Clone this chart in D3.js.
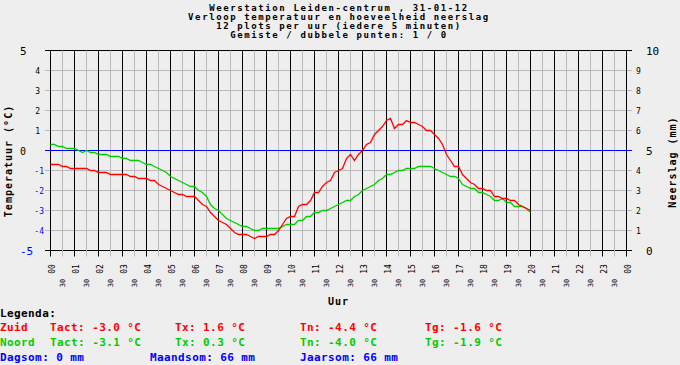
<!DOCTYPE html>
<html>
<head>
<meta charset="utf-8">
<script src="https://cdn.jsdelivr.net/npm/d3@7"></script>
<style>
  html, body { margin: 0; padding: 0; background: #eeeeee; }
  svg { display: block; }
  text { font-family: "DejaVu Sans Mono", monospace; }
</style>
</head>
<body>
<svg id="chart" width="680" height="365"></svg>
<script>
// ---------------- DATA ----------------
const titleLines = [
  "Weerstation Leiden-centrum , 31-01-12",
  "Verloop temperatuur en hoeveelheid neerslag",
  "12 plots per uur (iedere 5 minuten)",
  "Gemiste / dubbele punten: 1 / 0"
];
// time in hours (every 10 minutes, 00:00 - 20:00)
const timeSteps = d3.range(0, 121).map(k => k / 6);
const zuidTemp = [
  -0.7,-0.7,-0.7,-0.8,-0.8,-0.9,-0.9,-0.9,-0.9,-0.9,-1.0,-1.0,
  -1.1,-1.1,-1.1,-1.2,-1.2,-1.2,-1.2,-1.2,-1.3,-1.3,-1.4,-1.4,
  -1.4,-1.5,-1.5,-1.7,-1.8,-1.9,-2.0,-2.1,-2.2,-2.2,-2.3,-2.3,
  -2.3,-2.5,-2.7,-2.8,-3.1,-3.3,-3.5,-3.6,-3.7,-3.9,-4.1,-4.2,
  -4.2,-4.2,-4.3,-4.4,-4.3,-4.3,-4.3,-4.2,-4.2,-4.0,-3.7,-3.4,
  -3.3,-3.3,-2.8,-2.7,-2.7,-2.5,-2.1,-2.1,-1.8,-1.6,-1.5,-1.1,
  -1.0,-0.9,-0.4,-0.2,-0.5,-0.2, 0.0, 0.3, 0.4, 0.8, 1.0, 1.2,
   1.5, 1.6, 1.1, 1.3, 1.3, 1.5, 1.4, 1.4, 1.3, 1.2, 1.0, 1.0,
   0.8, 0.6, 0.3,-0.2,-0.5,-0.8,-0.8,-1.2,-1.4,-1.6,-1.7,-1.9,
  -1.9,-2.0,-2.0,-2.3,-2.3,-2.4,-2.4,-2.5,-2.5,-2.7,-2.8,-2.9,
  -3.0
];
const noordTemp = [
   0.3, 0.3, 0.2, 0.2, 0.1, 0.1, 0.1, 0.0,-0.1, 0.0,-0.1,-0.1,
  -0.2,-0.2,-0.2,-0.3,-0.3,-0.3,-0.4,-0.4,-0.5,-0.5,-0.5,-0.6,
  -0.7,-0.7,-0.8,-0.9,-1.0,-1.1,-1.3,-1.4,-1.5,-1.6,-1.7,-1.8,
  -1.8,-2.0,-2.1,-2.3,-2.7,-2.9,-3.0,-3.2,-3.4,-3.5,-3.6,-3.7,
  -3.8,-3.8,-3.9,-4.0,-4.0,-3.9,-3.9,-3.9,-3.9,-3.9,-3.8,-3.7,
  -3.7,-3.7,-3.5,-3.5,-3.3,-3.3,-3.1,-3.1,-3.0,-3.0,-2.9,-2.8,
  -2.7,-2.6,-2.5,-2.5,-2.3,-2.2,-2.0,-1.9,-1.8,-1.7,-1.5,-1.4,
  -1.2,-1.2,-1.1,-1.0,-1.0,-0.9,-0.9,-0.9,-0.8,-0.8,-0.8,-0.8,
  -0.9,-1.0,-1.1,-1.2,-1.3,-1.3,-1.4,-1.7,-1.8,-1.9,-1.9,-2.1,
  -2.1,-2.2,-2.3,-2.5,-2.5,-2.4,-2.6,-2.6,-2.8,-2.8,-2.8,-2.9,
  -3.1
];
const tempTicks = [-5,-4,-3,-2,-1,0,1,2,3,4,5];
const rainTicks = [0,1,2,3,4,5,6,7,8,9,10];
const hourTicks = d3.range(0, 25);
const halfHourTicks = d3.range(0.5, 24, 1);
const hourLabels = ["00","01","02","03","04","05","06","07","08","09","10","11",
                    "12","13","14","15","16","17","18","19","20","21","22","23","00"];
const legendTitle = "Legenda:";
const legendZuid = ["Zuid", "Tact: -3.0 °C", "Tx: 1.6 °C", "Tn: -4.4 °C", "Tg: -1.6 °C"];
const legendNoord = ["Noord", "Tact: -3.1 °C", "Tx: 0.3 °C", "Tn: -4.0 °C", "Tg: -1.9 °C"];
const legendRain = ["Dagsom: 0 mm", "Maandsom: 66 mm", "Jaarsom: 66 mm"];

// ---------------- DRAW ----------------
const RED = "#ff0000", GREEN = "#00cc00", BLUE = "#0000ff", GRID = "#bbbbbb";
const svg = d3.select("#chart");

const x = d3.scaleLinear().domain([0, 24]).range([50.5, 626.5]);
const y = d3.scaleLinear().domain([-5, 5]).range([250.5, 50.5]);
const yR = d3.scaleLinear().domain([0, 10]).range([250.5, 50.5]);

// title
svg.append("g").selectAll("text").data(titleLines).join("text")
  .attr("x", 339).attr("y", (d, i) => 10.5 + i * 9.2)
  .attr("text-anchor", "middle")
  .attr("font-size", "9px").attr("font-weight", "bold")
  .attr("letter-spacing", "1.6px")
  .attr("fill", "#000").text(d => d);

// horizontal gridlines (extend as ticks both sides)
svg.append("g").selectAll("line").data(tempTicks.filter(t => t !== 0)).join("line")
  .attr("x1", 45).attr("x2", 632)
  .attr("y1", d => y(d)).attr("y2", d => y(d))
  .attr("stroke", d => (Math.abs(d) === 5 ? "#000" : GRID))
  .attr("stroke-width", 1);

// half-hour vertical gridlines
svg.append("g").selectAll("line").data(halfHourTicks).join("line")
  .attr("x1", d => x(d)).attr("x2", d => x(d))
  .attr("y1", y(5)).attr("y2", y(-5) + 6)
  .attr("stroke", GRID).attr("stroke-width", 1);

// hour vertical lines
svg.append("g").selectAll("line").data(hourTicks).join("line")
  .attr("x1", d => x(d)).attr("x2", d => x(d))
  .attr("y1", y(5)).attr("y2", y(-5) + 6)
  .attr("stroke", "#000").attr("stroke-width", 1);

// zero line
svg.append("line")
  .attr("x1", 45).attr("x2", 632)
  .attr("y1", y(0)).attr("y2", y(0))
  .attr("stroke", BLUE).attr("stroke-width", 1);

// left axis labels
const leftLab = svg.append("g");
tempTicks.forEach(t => {
  const big = Math.abs(t) === 5 || t === 0;
  leftLab.append("text")
    .attr("x", big ? 20 : (t < 0 ? 44 : 40))
    .attr("y", y(t) + (big ? 4 : 3))
    .attr("text-anchor", big ? "start" : "end")
    .attr("font-size", big ? (t === 0 ? "10px" : "11px") : "8px")
    .attr("fill", t < 0 ? BLUE : "#000")
    .text(t);
});
// right axis labels
const rightLab = svg.append("g");
rainTicks.forEach(t => {
  const big = t % 5 === 0;
  rightLab.append("text")
    .attr("x", big ? 646 : 636)
    .attr("y", yR(t) + (big ? 4 : 3))
    .attr("font-size", big ? "11px" : "8px")
    .attr("fill", "#000")
    .text(t);
});

// axis titles
svg.append("text")
  .attr("transform", "translate(12,161) rotate(-90)")
  .attr("text-anchor", "middle")
  .attr("font-size", "10px").attr("font-weight", "bold").attr("letter-spacing", "1px")
  .text("Temperatuur (°C)");
svg.append("text")
  .attr("transform", "translate(676,162) rotate(-90)")
  .attr("text-anchor", "middle")
  .attr("font-size", "10px").attr("font-weight", "bold").attr("letter-spacing", "1px")
  .text("Neerslag (mm)");

// x labels
svg.append("g").selectAll("text").data(hourTicks).join("text")
  .attr("transform", d => `translate(${x(d) + 4},269) rotate(-90)`)
  .attr("text-anchor", "middle")
  .attr("font-size", "8px").attr("fill", "#000")
  .text((d, i) => hourLabels[i]);
svg.append("g").selectAll("text").data(halfHourTicks).join("text")
  .attr("transform", d => `translate(${x(d) + 2.5},283) rotate(-90)`)
  .attr("text-anchor", "middle")
  .attr("font-size", "7px").attr("fill", "#000")
  .text("30");

svg.append("text")
  .attr("x", 338.5).attr("y", 305)
  .attr("text-anchor", "middle")
  .attr("font-size", "10px").attr("font-weight", "bold").attr("letter-spacing", "1px")
  .text("Uur");

// series
const line = d3.line().x(d => x(d[0])).y(d => y(d[1]));
svg.append("path")
  .datum(timeSteps.map((t, i) => [t, noordTemp[i]]))
  .attr("d", line).attr("fill", "none")
  .attr("stroke", GREEN).attr("stroke-width", 1.3);
svg.append("path")
  .datum(timeSteps.map((t, i) => [t, zuidTemp[i]]))
  .attr("d", line).attr("fill", "none")
  .attr("stroke", RED).attr("stroke-width", 1.3);

// legend
const lg = svg.append("g")
  .attr("font-size", "11px").attr("font-weight", "bold").attr("letter-spacing", "0.4px");
lg.append("text").attr("x", 0).attr("y", 317).attr("fill", "#000").text(legendTitle);
const cols = [0, 50, 175, 300, 425];
lg.selectAll(".lz").data(legendZuid).join("text").attr("class", "lz")
  .attr("x", (d, i) => cols[i]).attr("y", 331).attr("fill", RED).text(d => d);
lg.selectAll(".ln").data(legendNoord).join("text").attr("class", "ln")
  .attr("x", (d, i) => cols[i]).attr("y", 346).attr("fill", GREEN).text(d => d);
const rcols = [0, 150, 300];
lg.selectAll(".lr").data(legendRain).join("text").attr("class", "lr")
  .attr("x", (d, i) => rcols[i]).attr("y", 361).attr("fill", BLUE).text(d => d);
</script>
</body>
</html>
